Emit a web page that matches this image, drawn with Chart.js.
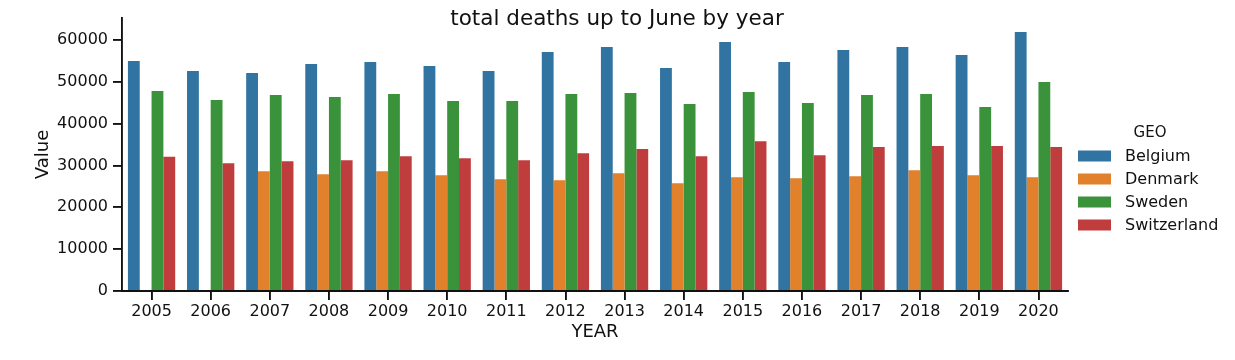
<!DOCTYPE html>
<html>
<head>
<meta charset="utf-8">
<script src="https://cdn.jsdelivr.net/npm/chart.js@4"></script>
<style>
  html, body { margin: 0; padding: 0; background: #fff; }
  #wrap { width: 1235px; height: 360px; position: relative; }
</style>
</head>
<body>
<div id="wrap"><canvas id="c" width="1235" height="360"></canvas></div>
<script>
const years = ['2005','2006','2007','2008','2009','2010','2011','2012','2013','2014','2015','2016','2017','2018','2019','2020'];
const belgium     = [54970, 52570, 52090, 54250, 54730, 53770, 52570, 57120, 58320, 53290, 59510, 54730, 57600, 58320, 56400, 61910];
const denmark     = [null, null, 28640, 27930, 28640, 27690, 26730, 26490, 28170, 25770, 27210, 26970, 27450, 28880, 27690, 27210];
const sweden      = [47790, 45630, 46830, 46350, 47070, 45400, 45400, 47070, 47310, 44680, 47550, 44920, 46830, 47070, 43960, 49940];
const switzerland = [32070, 30560, 31040, 31280, 32230, 31750, 31280, 32950, 33910, 32230, 35820, 32470, 34390, 34630, 34630, 34390];
const yTicks = [0, 10000, 20000, 30000, 40000, 50000, 60000];
const seriesNames = ['Belgium', 'Denmark', 'Sweden', 'Switzerland'];
const seriesColors = ['#3274a1', '#e1812c', '#3a923a', '#c03d3e'];
const chartTitle = 'total deaths up to June by year';
const legendTitle = 'GEO';

const FONT = "'DejaVu Sans', sans-serif";
const INK = '#111111';

const overlay = {
  id: 'overlay',
  afterDraw(chart) {
    const ctx = chart.ctx;
    ctx.save();
    ctx.fillStyle = INK;
    ctx.font = "21.5px " + FONT;
    ctx.textAlign = 'center';
    ctx.textBaseline = 'alphabetic';
    ctx.fillText(chartTitle, 617, 25);
    ctx.font = "15px " + FONT;
    ctx.textBaseline = 'middle';
    ctx.fillText(legendTitle, 1150, 133);
    ctx.font = "16px " + FONT;
    ctx.textAlign = 'left';
    chart.data.datasets.forEach((ds, i) => {
      const cy = 156 + i * 23;
      ctx.fillStyle = ds.backgroundColor;
      ctx.fillRect(1078, cy - 5.5, 33, 11);
      ctx.fillStyle = INK;
      ctx.fillText(ds.label, 1125, cy + 1);
    });
    ctx.restore();
  }
};

const seriesData = [belgium, denmark, sweden, switzerland];

new Chart(document.getElementById('c'), {
  type: 'bar',
  data: {
    labels: years,
    datasets: seriesNames.map((n, i) => ({
      label: n,
      data: seriesData[i],
      backgroundColor: seriesColors[i],
      borderWidth: 0,
      categoryPercentage: 0.8,
      barPercentage: 1.0
    }))
  },
  options: {
    responsive: false,
    animation: false,
    devicePixelRatio: 1,
    layout: { padding: { left: 0, right: 167, top: 18, bottom: 0 } },
    plugins: {
      legend: { display: false },
      title: { display: false },
      tooltip: { enabled: false }
    },
    scales: {
      x: {
        type: 'category',
        offset: true,
        grid: {
          display: true, offset: false, drawOnChartArea: false, drawTicks: true,
          tickLength: 9, tickWidth: 1.875, tickColor: INK, color: INK, lineWidth: 1.875
        },
        border: { display: true, color: INK, width: 1.875 },
        ticks: { color: INK, font: { family: FONT, size: 16 }, padding: 2, maxRotation: 0, autoSkip: false },
        title: { display: true, text: 'YEAR', color: INK, font: { family: FONT, size: 18 }, padding: { top: 0, bottom: 17 } },
        afterFit(scale) { scale.height = 69; }
      },
      y: {
        min: 0,
        max: 65250,
        grid: {
          display: true, drawOnChartArea: false, drawTicks: true,
          tickLength: 9, tickWidth: 1.875, tickColor: INK, color: INK, lineWidth: 1.875
        },
        border: { display: true, color: INK, width: 1.875 },
        ticks: { color: INK, font: { family: FONT, size: 16 }, padding: 5, stepSize: 10000,
                 callback: (v) => String(v) },
        afterBuildTicks(scale) { scale.ticks = yTicks.map(v => ({ value: v })); },
        title: { display: true, text: 'Value', color: INK, font: { family: FONT, size: 18 }, padding: { top: 33, bottom: 0 } },
        afterFit(scale) { scale.width = 122; }
      }
    }
  },
  plugins: [overlay]
});
</script>
</body>
</html>
